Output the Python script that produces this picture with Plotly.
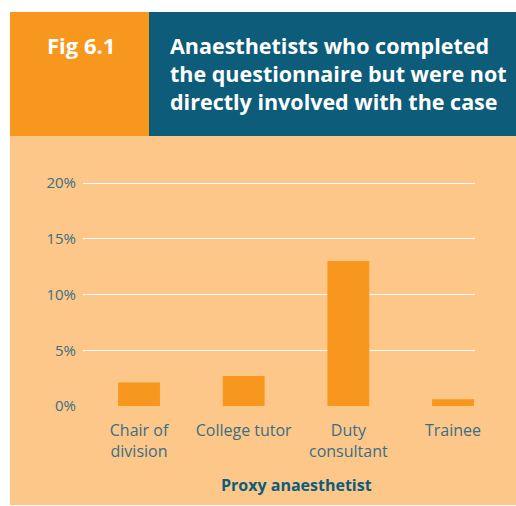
import plotly.graph_objects as go

categories = ["Chair of<br>division", "College tutor", "Duty<br>consultant", "Trainee"]
values = [2.1, 2.7, 13.0, 0.6]
y_ticks = [0, 5, 10, 15, 20]
y_tick_text = ["%d%%" % v for v in y_ticks]
fig_label = "Fig 6.1"
title_lines = ["Anaesthetists who completed", "the questionnaire but were not", "directly involved with the case"]
x_title = "Proxy anaesthetist"

W, H = 516, 506
ORANGE = "#F7971E"
TEAL = "#0C5C7A"
BG = "#FDC78A"
TXT = "#3C6E82"
FONT = "Open Sans"

Y_MAX = 21.0
PX_PER_UNIT = (406 - 183) / 20.0

def px(x):
    return x / W

def py(y):
    return 1 - y / H

fig = go.Figure()
fig.add_trace(go.Bar(
    x=list(range(len(categories))), y=values,
    marker=dict(color=ORANGE, line=dict(width=0)),
    width=0.40, hoverinfo="skip",
))

shapes = [
    dict(type="rect", xref="paper", yref="paper", x0=px(10), x1=px(149), y0=py(136), y1=py(12),
         fillcolor=ORANGE, line=dict(width=0), layer="below"),
    dict(type="rect", xref="paper", yref="paper", x0=px(149), x1=1, y0=py(136), y1=py(12),
         fillcolor=TEAL, line=dict(width=0), layer="below"),
    dict(type="rect", xref="paper", yref="paper", x0=px(10), x1=1, y0=py(505), y1=py(136),
         fillcolor=BG, line=dict(width=0), layer="below"),
]

annotations = [
    dict(text="<b>%s</b>" % fig_label, x=px(81), y=py(45), xref="paper", yref="paper",
         xanchor="center", yanchor="middle", showarrow=False,
         font=dict(family=FONT, size=22, color="white")),
]
for i, line in enumerate(title_lines):
    annotations.append(dict(text="<b>%s</b>" % line, x=px(168), y=py(45 + 28.3 * i),
                            xref="paper", yref="paper", xanchor="left", yanchor="middle",
                            showarrow=False, font=dict(family=FONT, size=21.5, color="white")))
annotations.append(dict(text="<b>%s</b>" % x_title, x=px(296), y=py(485), xref="paper", yref="paper",
                        xanchor="center", yanchor="middle", showarrow=False,
                        font=dict(family=FONT, size=16, color=TEAL)))

fig.update_layout(
    width=W, height=H,
    margin=dict(l=0, r=0, t=0, b=0),
    paper_bgcolor="white", plot_bgcolor="rgba(0,0,0,0)",
    showlegend=False,
    shapes=shapes, annotations=annotations,
    font=dict(family=FONT, color=TXT, size=14),
    xaxis=dict(
        domain=[px(83), px(475)],
        range=[-0.535, 3.21],
        tickmode="array", tickvals=list(range(len(categories))), ticktext=categories,
        showgrid=False, zeroline=False, showline=False, ticks="",
        tickfont=dict(family=FONT, size=16, color=TXT),
        ticklabelstandoff=13, automargin=False, fixedrange=True,
    ),
    yaxis=dict(
        domain=[py(406), py(406 - Y_MAX * PX_PER_UNIT)],
        range=[0, Y_MAX],
        tickmode="array", tickvals=y_ticks, ticktext=y_tick_text,
        showgrid=True, gridcolor="white", gridwidth=1,
        zeroline=True, zerolinecolor=BG, zerolinewidth=1,
        showline=False, ticks="",
        tickfont=dict(family=FONT, size=15, color=TXT),
        ticklabelstandoff=6, automargin=False, fixedrange=True,
    ),
)

fig.write_html("out.html", post_script="document.body.style.margin='0px';",
               config={"displayModeBar": False})
